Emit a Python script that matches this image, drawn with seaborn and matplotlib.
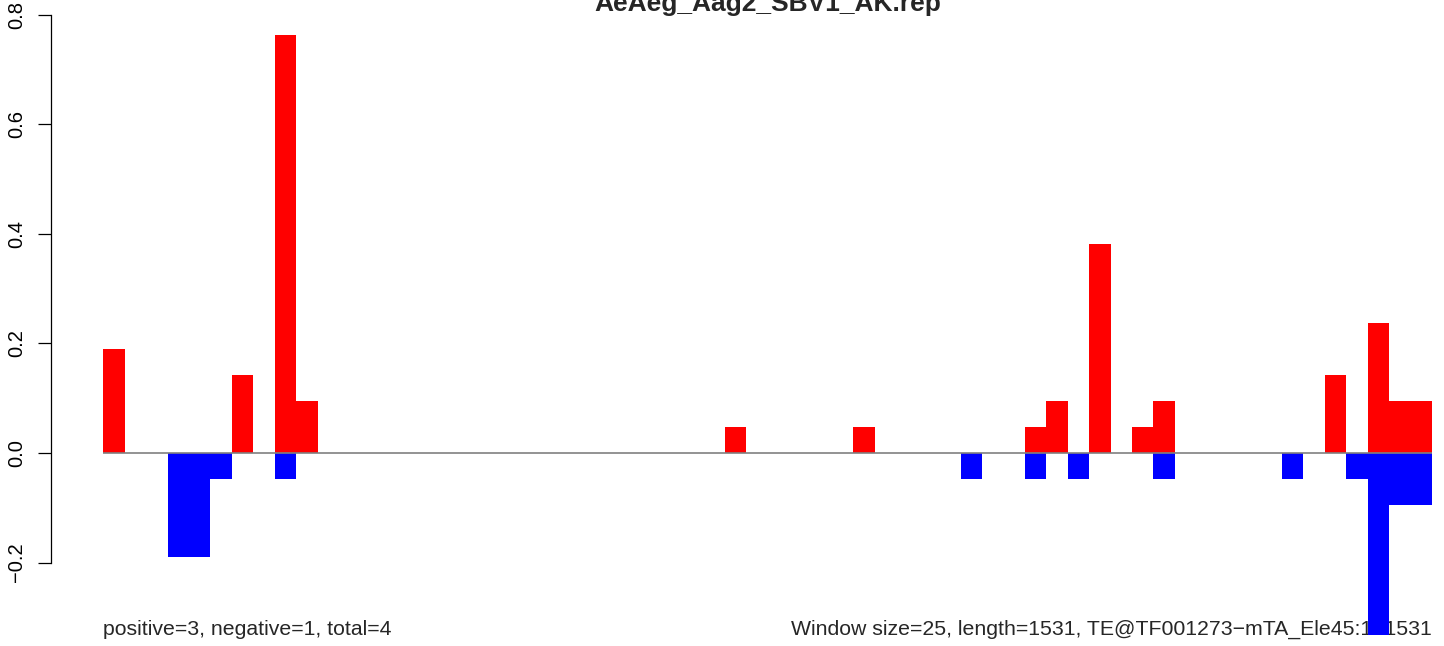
import numpy as np
import pandas as pd
import seaborn as sns
import matplotlib
matplotlib.use("Agg")
import matplotlib.pyplot as plt

# window signal, window size 25 over a 1531 bp element -> 62 windows
n_windows = 62
pos_windows = [0, 6, 8, 9, 29, 35, 43, 44, 46, 48, 49, 57, 59, 60, 61]
pos_values = [0.190, 0.143, 0.762, 0.095, 0.048, 0.048, 0.048, 0.095, 0.381,
              0.048, 0.095, 0.143, 0.238, 0.095, 0.095]
neg_windows = [3, 4, 5, 8, 40, 43, 45, 49, 55, 58, 59, 60, 61]
neg_values = [-0.190, -0.190, -0.048, -0.048, -0.048, -0.048, -0.048, -0.048,
              -0.048, -0.048, -0.333, -0.095, -0.095]
y_ticks = [-0.2, 0.0, 0.2, 0.4, 0.6, 0.8]

title = "AeAeg_Aag2_SBV1_AK.rep"
left_note = "positive=3, negative=1, total=4"
right_note = "Window size=25, length=1531, TE@TF001273\u2212mTA_Ele45:1\u22121531"

pos = np.zeros(n_windows)
pos[pos_windows] = pos_values
neg = np.zeros(n_windows)
neg[neg_windows] = neg_values
df = pd.DataFrame({"window": np.arange(n_windows), "pos": pos, "neg": neg})

sns.set_theme(style="white")
plt.rcParams["font.family"] = ["Liberation Sans", "DejaVu Sans"]

W, H = 1444, 646
fig = plt.figure(figsize=(W / 100, H / 100), dpi=100)
x0, x1 = 103.3, 1432.0
ax = fig.add_axes([x0 / W, 0, (x1 - x0) / W, 1])
ax.set_facecolor("none")

sns.barplot(data=df, x="window", y="pos", color="#ff0000", saturation=1,
            width=1.0, linewidth=0, ax=ax, zorder=2)
sns.barplot(data=df, x="window", y="neg", color="#0000ff", saturation=1,
            width=1.0, linewidth=0, ax=ax, zorder=2)
ax.axhline(0, color="#808080", lw=1.2, zorder=3)

ax.set_xlim(-0.5, n_windows - 0.5)
# 0 sits at 453 px from top, 0.2 per ~109.6 px
ax.set_ylim((453 - H) / 548.0, 453 / 548.0)

for s in ["top", "right", "bottom"]:
    ax.spines[s].set_visible(False)
ax.spines["left"].set_position(("outward", 37.4))
ax.spines["left"].set_bounds(-0.2, 0.8)
ax.spines["left"].set_color("black")
ax.spines["left"].set_linewidth(0.9)
ax.set_xticks([])
ax.set_yticks(y_ticks)
ax.set_yticklabels([f"{t:.1f}".replace("-", "\u2212") for t in y_ticks])
ax.tick_params(axis="y", left=True, length=9.4, width=0.9, pad=8.5, direction="out",
               labelsize=14.5, labelrotation=90, colors="black")
for lab in ax.get_yticklabels():
    lab.set_va("center")
ax.set_xlabel("")
ax.set_ylabel("")

# title is partly above the top edge, as in the original
fig.text((x0 + x1) / 2 / W, 1 - 11 / H, title, ha="center", va="baseline",
         fontsize=19, fontweight="bold")
fig.text(x0 / W, 11 / H, left_note, ha="left", va="baseline", fontsize=15.3, zorder=-1)
fig.text(x1 / W, 11 / H, right_note, ha="right", va="baseline", fontsize=15.3, zorder=-1)

plt.savefig("out.png", dpi=100)
plt.close()
